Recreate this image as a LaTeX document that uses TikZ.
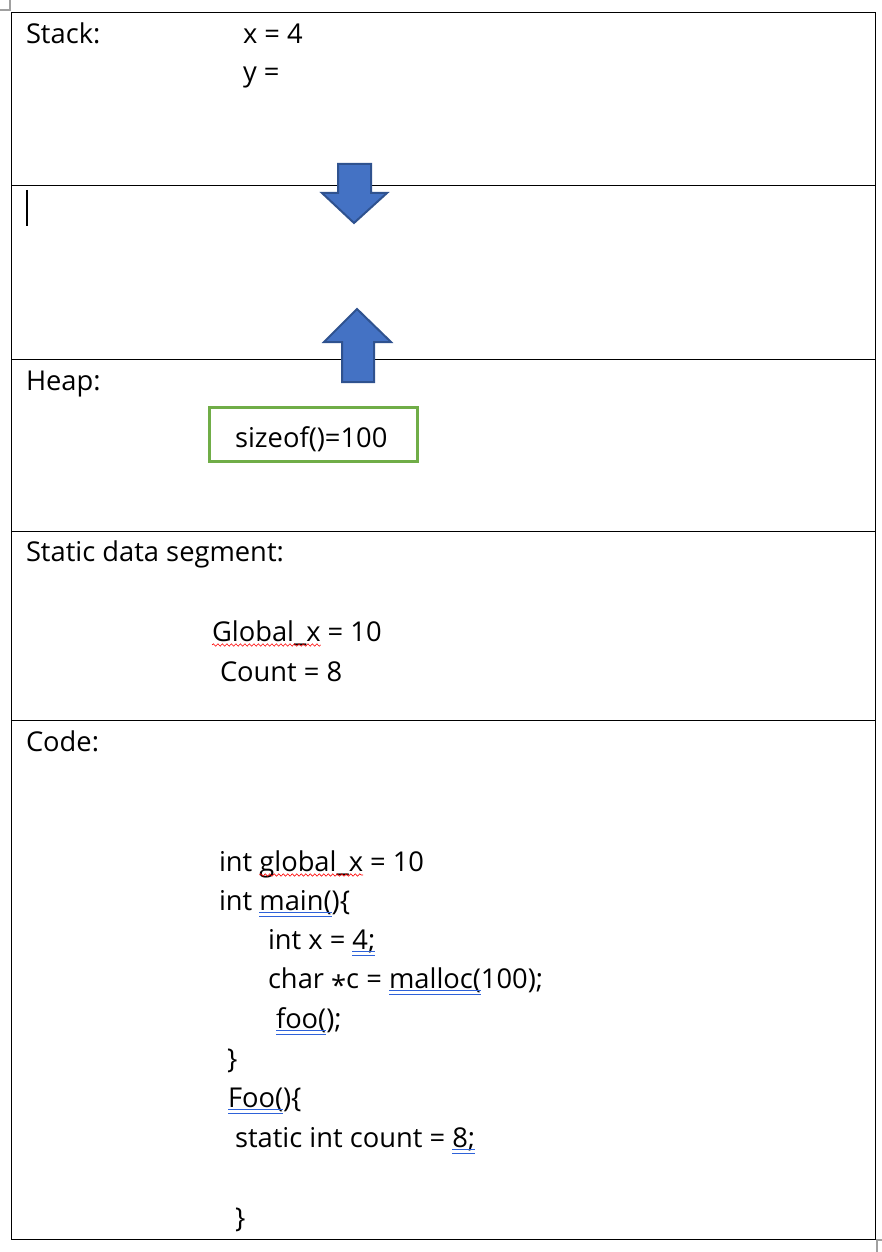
\documentclass[tikz,border=0pt]{standalone}
\usepackage{fontspec}
\setmainfont[Ligatures={NoCommon}]{Open Sans}
\usetikzlibrary{decorations.pathmorphing}
\definecolor{arrowfill}{HTML}{4472C4}
\definecolor{arrowline}{HTML}{2F528F}
\definecolor{boxgreen}{HTML}{70AD47}
\definecolor{spellblue}{HTML}{2E62D9}
\definecolor{handlegray}{HTML}{A0A0A0}
\tikzset{
  txt/.style={anchor=base west, inner sep=0pt, outer sep=0pt, font=\fontsize{27.3}{32}\selectfont, text=black},
  rowline/.style={draw=black, line width=1pt},
  blockarrow/.style={fill=arrowfill, draw=arrowline, line width=2pt, line join=miter},
  greenbox/.style={draw=boxgreen, line width=3pt},
  wave/.style={draw=red, line width=0.6pt, decorate, decoration={snake, amplitude=1.2pt, segment length=4.5pt}},
  dblline/.style={draw=spellblue, line width=0.8pt}
}
\newcommand\keepsp{\ \null}
\newcommand\spellwave[1]{\draw[wave] ([yshift=-4pt]#1.base west) -- ([yshift=-4pt]#1.base east);}
\newcommand\spelldbl[1]{\draw[dblline] ([yshift=-2.5pt]#1.base west) -- ([yshift=-2.5pt]#1.base east);
  \draw[dblline] ([yshift=-6pt]#1.base west) -- ([yshift=-6pt]#1.base east);}
\begin{document}
\begin{tikzpicture}[x=1pt,y=-1pt]
\useasboundingbox (0,0) rectangle (882,1252);
% table handles
\draw[handlegray, line width=1.2pt] (0,10) -- (10,10) -- (10,0);
\draw[handlegray, line width=1.2pt] (877,1252) -- (877,1240) -- (882,1240);
% table frame and rows
\draw[rowline] (11,13) rectangle (875,1239);
\coordinate (r1l) at (11,186); \coordinate (r1r) at (875,186);
\coordinate (r2l) at (11,359); \coordinate (r2r) at (875,359);
\coordinate (r3l) at (11,531); \coordinate (r3r) at (875,531);
\coordinate (r4l) at (11,720); \coordinate (r4r) at (875,720);
\draw[rowline] (r1l) -- (r1r);
\draw[rowline] (r2l) -- (r2r);
\draw[rowline] (r3l) -- (r3r);
\draw[rowline] (r4l) -- (r4r);
% cursor
\draw[black, line width=1.5pt] (27,190) -- (27,226);
% arrows
\draw[blockarrow] (338,164) -- (371,164) -- (371,193) -- (387,193) -- (354,223) -- (322,193) -- (338,193) -- cycle;
\draw[blockarrow] (357,309) -- (391,342) -- (374,342) -- (374,382) -- (342,382) -- (342,342) -- (324,342) -- cycle;
% heap box
\draw[greenbox] (209,407) rectangle (417,461);
% texts
\node[txt] (stack) at (26,44) {Stack:};
\node[txt] (sx) at (243,44) {x = 4};
\node[txt] (sy) at (243,82) {y =};
\node[txt] (heap) at (26,390) {Heap:};
\node[txt] (sizeof) at (235,447) {sizeof()=100};
\node[txt] (static) at (26,561) {Static data segment:};
\node[txt] (gxa) at (212,641) {Global\_x};
\node[txt] (gxb) at (gxa.base east) {\ = 10};
\node[txt] (cnt) at (220,681) {Count = 8};
\node[txt] (code) at (26,751) {Code:};
% code lines
\node[txt] (c1a) at (219,871) {int\keepsp};
\node[txt] (c1b) at (c1a.base east) {global\_x};
\node[txt] (c1c) at (c1b.base east) {\ = 10};
\node[txt] (c2a) at (219,910) {int\keepsp};
\node[txt] (c2b) at (c2a.base east) {main(};
\node[txt] (c2c) at (c2b.base east) {)\{};
\node[txt] (c3a) at (268,949) {int x =\keepsp};
\node[txt] (c3b) at (c3a.base east) {4;};
\node[txt] (c4a) at (268,988) {char \raisebox{-0.28em}{*}c =\keepsp};
\node[txt] (c4b) at (c4a.base east) {malloc(};
\node[txt] (c4c) at (c4b.base east) {100);};
\node[txt] (c5a) at (276,1028) {foo(};
\node[txt] (c5b) at (c5a.base east) {);};
\node[txt] (c6) at (227,1068) {\}};
\node[txt] (c7a) at (228,1107) {Foo(};
\node[txt] (c7b) at (c7a.base east) {)\{};
\node[txt] (c8a) at (235,1147) {static int count =\keepsp};
\node[txt] (c8b) at (c8a.base east) {8;};
\node[txt] (c9) at (235,1227) {\}};
% spell-check marks
\spellwave{gxa}
\spellwave{c1b}
\spelldbl{c2b}
\spelldbl{c3b}
\spelldbl{c4b}
\spelldbl{c5a}
\spelldbl{c7a}
\spelldbl{c8b}
\end{tikzpicture}
\end{document}
